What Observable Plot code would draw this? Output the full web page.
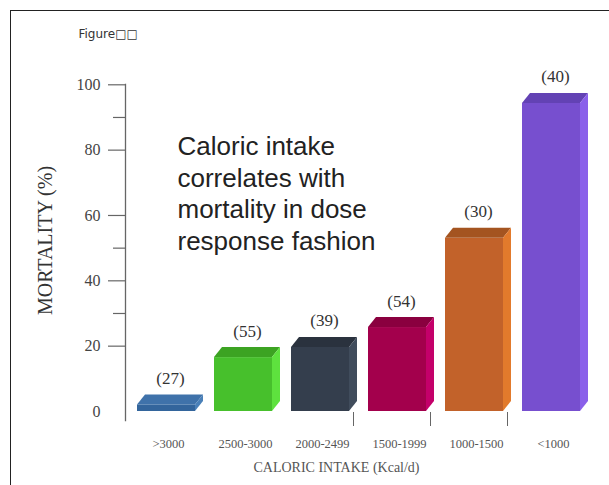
<!DOCTYPE html>
<html>
<head>
<meta charset="utf-8">
<script src="https://cdn.jsdelivr.net/npm/d3@7"></script>
<script src="https://cdn.jsdelivr.net/npm/@observablehq/plot@0.6"></script>
<style>
  body { margin: 0; background: #fff; }
  #wrap { position: relative; width: 609px; height: 485px; overflow: hidden; background: #fff; }
  #border { position: absolute; left: 10px; top: 10px; right: -4px; bottom: -4px;
            border-top: 1.5px solid #222; border-left: 1.5px solid #222; pointer-events: none; }
</style>
</head>
<body>
<div id="wrap"></div>
<script>
// ---- data ----
const categories = [">3000", "2500-3000", "2000-2499", "1500-1999", "1000-1500", "<1000"];
const mortality = [2, 16.5, 19.6, 25.7, 53, 94.3];
const counts = ["(27)", "(55)", "(39)", "(54)", "(30)", "(40)"];
const yTickLabels = [0, 20, 40, 60, 80, 100];
const yMajorTickMarks = [20, 40, 60, 80, 100];
const yMinorTickMarks = [30, 50, 90];
const separatorTicks = ["1500-1999", "1000-1500", "<1000"];
const figureLabel = "Figure\u25A1\u25A1";
const annotation = "Caloric intake\ncorrelates with\nmortality in dose\nresponse fashion";
const yTitle = "MORTALITY (%)";
const xTitle = "CALORIC INTAKE (Kcal/d)";

// ---- styles ----
const frontColors = ["#33659c", "#47c02c", "#343e4d", "#a3004c", "#c2622a", "#774fcf"];
const topColors   = ["#3f72aa", "#3ca322", "#2a323e", "#8a003f", "#a45420", "#6342b4"];
const sideColors  = ["#4a80b8", "#5ee23e", "#404c5c", "#c4006a", "#e27a2c", "#8a60ea"];

const data = categories.map((c, i) => ({
  category: c, mortality: mortality[i], count: counts[i],
  front: frontColors[i], top: topColors[i], side: sideColors[i]
}));

const DEPTH_X = 8, DEPTH_Y = 10;
function bars3d(index, scales, values, dimensions, context, next) {
  const g = next(index, scales, values, dimensions, context);
  const bw = scales.x.bandwidth ? scales.x.bandwidth() : 58;
  const sel = d3.select(g);
  for (const i of index) {
    const x0 = values.x[i], x1 = x0 + bw;
    const yT = Math.min(values.y1[i], values.y2[i]);
    const yB = Math.max(values.y1[i], values.y2[i]);
    sel.append("path")
      .attr("d", `M${x0},${yT}L${x1},${yT}L${x1 + DEPTH_X},${yT - DEPTH_Y}L${x0 + DEPTH_X},${yT - DEPTH_Y}Z`)
      .attr("fill", data[i].top);
    sel.append("path")
      .attr("d", `M${x1},${yT}L${x1 + DEPTH_X},${yT - DEPTH_Y}L${x1 + DEPTH_X},${yB - DEPTH_Y}L${x1},${yB}Z`)
      .attr("fill", data[i].side);
  }
  return g;
}

const serif = "'Liberation Serif', 'Times New Roman', serif";
const sans = "'Liberation Sans', Arial, sans-serif";

const chart = Plot.plot({
  width: 609,
  height: 485,
  marginLeft: 125,
  marginRight: 0,
  marginTop: 84,
  marginBottom: 65,
  style: { background: "transparent", overflow: "visible" },
  x: { domain: categories, range: [117, 599.5], padding: 0.25 },
  y: { domain: [0, 100], range: [411, 84.3] },
  color: { type: "identity" },
  marks: [
    Plot.frame({ anchor: "left", stroke: "#666", strokeWidth: 1.3 }),
    Plot.axisY({ ticks: yMajorTickMarks, tickSize: 17, tickFormat: () => "", label: null, stroke: "#666", strokeWidth: 1.2 }),
    Plot.axisY({ ticks: yMinorTickMarks, tickSize: 12, tickFormat: () => "", label: null, stroke: "#666", strokeWidth: 1.2 }),
    Plot.axisY({ ticks: yTickLabels, tickSize: 0, tickPadding: 25, label: null,
                 fontFamily: serif, fontSize: 16, fill: "#444" }),
    Plot.axisX({ tickSize: 0, tickPadding: 19, label: null, dx: 2,
                 fontFamily: serif, fontSize: 12.5, fill: "#555" }),
    Plot.axisX({ ticks: separatorTicks, tickSize: 14, tickFormat: () => "", label: null,
                 dx: -44, dy: -8, stroke: "#666" }),
    Plot.barY(data, { x: "category", y: "mortality", fill: "front", render: bars3d }),
    Plot.text(data, { x: "category", y: "mortality", text: "count", dx: 4, dy: -21,
                      lineAnchor: "bottom", fontFamily: serif, fontSize: 17, fill: "#333" }),
    Plot.text([annotation], { text: d => d, frameAnchor: "top-left", dx: 52, dy: 48,
                      textAnchor: "start", lineAnchor: "top", lineHeight: 1.22,
                      fontFamily: sans, fontSize: 26, fill: "#222" }),
    Plot.text([yTitle], { text: d => d, frameAnchor: "left", rotate: -90, dx: -80, dy: -12,
                      textAnchor: "middle", lineAnchor: "middle",
                      fontFamily: serif, fontSize: 20, fill: "#333" }),
    Plot.text([xTitle], { text: d => d, frameAnchor: "bottom", dx: -31, dy: 51,
                      textAnchor: "middle", lineAnchor: "bottom",
                      fontFamily: serif, fontSize: 14, fill: "#555" }),
    Plot.text([figureLabel], { text: d => d, frameAnchor: "top-left", dx: -47, dy: -47,
                      textAnchor: "start", lineAnchor: "bottom",
                      fontFamily: "'DejaVu Sans', sans-serif", fontSize: 12, fill: "#333" })
  ]
});

const wrap = document.getElementById("wrap");
wrap.appendChild(chart);
const border = document.createElement("div");
border.id = "border";
wrap.appendChild(border);
</script>
</body>
</html>
